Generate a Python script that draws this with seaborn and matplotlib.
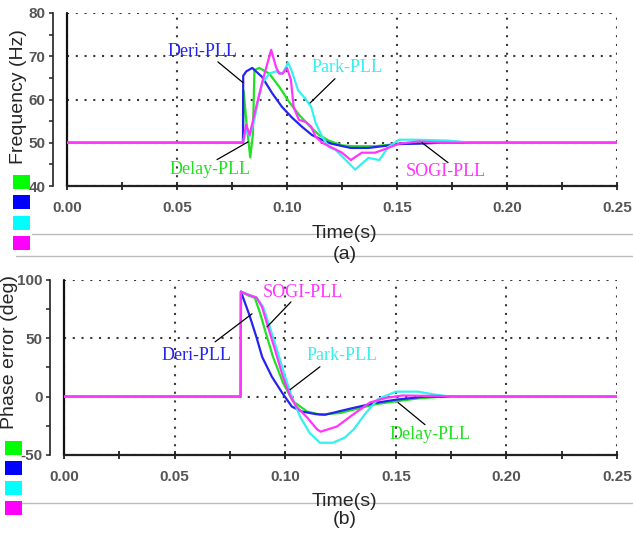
import numpy as np
import pandas as pd
import matplotlib
matplotlib.use("Agg")
import matplotlib.pyplot as plt
import seaborn as sns
from matplotlib.lines import Line2D
from matplotlib.patches import Rectangle
from matplotlib.ticker import MultipleLocator, FormatStrFormatter

# ---------------- data ----------------
methods = ["Delay-PLL", "Deri-PLL", "Park-PLL", "SOGI-PLL"]
line_colors = ["#22e022", "#2424ee", "#35f0f0", "#ff35ff"]
swatch_colors = ["#00ff00", "#0000ff", "#00ffff", "#ff00ff"]

# (a) frequency (Hz)
f_delay_t = [0, 0.0800, 0.0803, 0.0815, 0.0833, 0.0845, 0.0852, 0.0874, 0.0919, 0.0964,
             0.1009, 0.1054, 0.1100, 0.1145, 0.1190, 0.1250, 0.1300, 0.1400, 0.1500, 0.1650, 0.1750, 0.25]
f_delay_v = [50, 50, 62, 55, 46.6, 52, 66.8, 67.3, 66, 63,
             59.5, 56.5, 54, 51.8, 50.5, 49.4, 49.2, 49.2, 49.7, 50.0, 50, 50]

f_deri_t = [0, 0.0800, 0.0801, 0.0815, 0.0842, 0.0887, 0.0932, 0.0977, 0.1023, 0.1068,
            0.1113, 0.1158, 0.1200, 0.1290, 0.1370, 0.1450, 0.1500, 0.1600, 0.1700, 0.25]
f_deri_v = [50, 50, 65.5, 66.5, 67.3, 65.2, 61.5, 58.3, 55.8, 53.7,
            51.8, 50.7, 49.8, 48.8, 48.8, 49.3, 49.7, 49.8, 50, 50]

f_park_t = [0, 0.0800, 0.0814, 0.0830, 0.0850, 0.0870, 0.0887, 0.0920, 0.0950, 0.0980,
            0.1005, 0.1020, 0.1050, 0.1086, 0.1110, 0.1130, 0.1160, 0.1190, 0.1220, 0.1310,
            0.1370, 0.1420, 0.1460, 0.1510, 0.1580, 0.1730, 0.1840, 0.25]
f_park_v = [50, 50, 53, 51.5, 55, 60, 63.8, 66, 66.5, 66,
            68.5, 66.8, 62.2, 60, 58.3, 54.6, 51.4, 49, 48.4, 43.8,
            46.5, 46, 49, 50.7, 50.7, 50.5, 50, 50]

f_sogi_t = [0, 0.0800, 0.0814, 0.0830, 0.0860, 0.0890, 0.0928, 0.0950, 0.0964, 0.0980,
            0.1000, 0.1018, 0.1030, 0.1054, 0.1086, 0.1110, 0.1130, 0.1160, 0.1250, 0.1290,
            0.1340, 0.1400, 0.1460, 0.1510, 0.1600, 0.1700, 0.25]
f_sogi_v = [50, 50, 54.2, 51.8, 58.3, 64.5, 71.5, 67.5, 66, 66,
            67.3, 64.5, 58.3, 55.3, 54.8, 53.7, 51.4, 50, 47.7, 46,
            47.7, 47.7, 48.8, 49.8, 50.3, 50, 50]

# (b) phase error (deg)
p_delay_t = [0, 0.0799, 0.0800, 0.0830, 0.0863, 0.0886, 0.0918, 0.0945, 0.0990, 0.1035,
             0.1100, 0.1157, 0.1248, 0.1300, 0.1410, 0.1500, 0.1600, 0.1710, 0.25]
p_delay_v = [0, 0, 90, 87, 84.6, 71.8, 51, 34, 12, -4,
             -12.8, -15.4, -14, -11.5, -6.4, -4, -1.5, 0, 0]

p_deri_t = [0, 0.0799, 0.0800, 0.0838, 0.0870, 0.0896, 0.0940, 0.0986, 0.1030, 0.1077,
            0.1140, 0.1180, 0.1300, 0.1410, 0.1500, 0.1630, 0.25]
p_deri_v = [0, 0, 90, 70, 51, 34, 17, 3.4, -8.5, -12.8,
            -15.0, -15.5, -10, -5.3, -2.6, 0, 0]

p_park_t = [0, 0.0799, 0.0800, 0.0838, 0.0870, 0.0900, 0.0930, 0.0963, 0.1000, 0.1030,
            0.1067, 0.1110, 0.1157, 0.1216, 0.1270, 0.1310, 0.1360, 0.1420, 0.1500, 0.1600,
            0.1680, 0.1750, 0.25]
p_park_v = [0, 0, 90, 87, 85, 77, 60, 40, 17, 0,
            -17, -31, -39.5, -39.5, -35, -28, -15, -2, 4.3, 4.3,
            1.7, 0, 0]

p_sogi_t = [0, 0.0799, 0.0800, 0.0838, 0.0870, 0.0895, 0.0922, 0.0954, 0.0990, 0.1020,
            0.1050, 0.1100, 0.1144, 0.1160, 0.1234, 0.1306, 0.1383, 0.1456, 0.1530, 0.1710,
            0.1770, 0.25]
p_sogi_v = [0, 0, 90, 87, 85, 77, 60, 40, 17, 1.7,
            -8.5, -18, -28, -30, -25.6, -15.4, -5, -1, 1, 0.5,
            0, 0]

freq_series = {"Delay-PLL": (f_delay_t, f_delay_v), "Deri-PLL": (f_deri_t, f_deri_v),
               "Park-PLL": (f_park_t, f_park_v), "SOGI-PLL": (f_sogi_t, f_sogi_v)}
phase_series = {"Delay-PLL": (p_delay_t, p_delay_v), "Deri-PLL": (p_deri_t, p_deri_v),
                "Park-PLL": (p_park_t, p_park_v), "SOGI-PLL": (p_sogi_t, p_sogi_v)}

# annotation labels: (name, text position, leader start, leader end)
freq_notes = [("Deri-PLL", (0.0614, 71.0), (0.0686, 68.7), (0.0800, 63.9)),
              ("Delay-PLL", (0.0650, 43.8), (0.0682, 46.1), (0.0823, 50.2)),
              ("Park-PLL", (0.1273, 67.5), (0.1218, 64.8), (0.1105, 59.2)),
              ("SOGI-PLL", (0.1723, 43.3), (0.1732, 45.4), (0.1614, 50.0))]
phase_notes = [("SOGI-PLL", (0.1080, 88.9), (0.1026, 81.2), (0.0918, 59.8)),
               ("Deri-PLL", (0.0601, 35.0), (0.0683, 47.0), (0.0850, 71.0)),
               ("Park-PLL", (0.1257, 35.0), (0.1157, 25.6), (0.1022, 6.0)),
               ("Delay-PLL", (0.1655, -32.5), (0.1632, -24.0), (0.1510, -5.0))]


def to_frame(series):
    rows = []
    for m in methods:
        t, v = series[m]
        rows.append(pd.DataFrame({"t": t, "v": v, "method": m}))
    return pd.concat(rows, ignore_index=True)


sns.set_style("white")
plt.rcParams["font.family"] = ["Liberation Sans", "DejaVu Sans"]

W, H = 633, 534
fig = plt.figure(figsize=(W / 100, H / 100), dpi=100)

ax1 = fig.add_axes([67 / W, 1 - 186 / H, 550 / W, 173 / H])
ax2 = fig.add_axes([64 / W, 1 - 455 / H, 553 / W, 175 / H])

color_of = dict(zip(methods, line_colors))


def style_axis(ax, ylim, ymaj, ymin):
    ax.set_xlim(0, 0.25)
    ax.set_ylim(*ylim)
    ax.set_axisbelow(True)
    ax.grid(True, which="major", linestyle=(0, (1, 3.2)), color="#3a3a3a", lw=1.5)
    for s in ["top", "right"]:
        ax.spines[s].set_visible(False)
    ax.spines["left"].set_position(("outward", 10))
    ax.spines["left"].set_linewidth(1.2)
    ax.spines["left"].set_color("#222222")
    ax.spines["bottom"].set_linewidth(1.6)
    ax.spines["bottom"].set_color("#222222")
    ax.axvline(0, color="#111111", lw=1.6, clip_on=False, zorder=1.5)
    ax.xaxis.set_major_locator(MultipleLocator(0.05))
    ax.xaxis.set_minor_locator(MultipleLocator(0.025))
    ax.xaxis.set_major_formatter(FormatStrFormatter("%.2f"))
    ax.yaxis.set_major_locator(MultipleLocator(ymaj))
    ax.yaxis.set_minor_locator(MultipleLocator(ymin))
    ax.yaxis.set_major_formatter(FormatStrFormatter("%d"))
    ax.tick_params(axis="x", which="both", direction="inout", length=6, width=1.3,
                   color="#222222", bottom=True)
    ax.tick_params(axis="x", which="major", pad=7.5, labelsize=11, labelcolor="#555555")
    ax.tick_params(axis="y", which="both", direction="out", length=3, width=1.1,
                   color="#222222", left=True)
    ax.tick_params(axis="y", which="major", pad=2.5, labelsize=11, labelcolor="#555555")
    ax.set_xlabel("")
    ax.set_ylabel("")


for ax, series, notes, ylim, ymaj, ymin in [
        (ax1, freq_series, freq_notes, (40, 80), 10, 5),
        (ax2, phase_series, phase_notes, (-50, 100), 50, 25)]:
    df = to_frame(series)
    sns.lineplot(data=df, x="t", y="v", hue="method", hue_order=methods,
                 palette=line_colors, estimator=None, sort=False, lw=1.6,
                 legend=False, ax=ax)
    style_axis(ax, ylim, ymaj, ymin)
    for name, tpos, a, b in notes:
        ax.annotate("", xy=b, xytext=a,
                    arrowprops=dict(arrowstyle="-", color="black", lw=0.9,
                                    shrinkA=0, shrinkB=0))
        ax.text(tpos[0], tpos[1], name, color=color_of[name], ha="center", va="center",
                fontsize=13, family="Liberation Serif")

# axis titles
fig.text(19 / W, 1 - 97 / H, "Frequency (Hz)", rotation=90, ha="center", va="center",
         fontsize=14)
fig.text(10 / W, 1 - 352 / H, "Phase error (deg)", rotation=90, ha="center", va="center",
         fontsize=14)

# separator lines
for x0, y in [(32, 234), (16, 256), (22, 503)]:
    fig.add_artist(Line2D([x0 / W, 1], [1 - y / H, 1 - y / H], transform=fig.transFigure,
                          color="#bbbbbb", lw=1.0))

fig.text(344 / W, 1 - 234 / H, "Time(s)", ha="center", va="center", fontsize=14)
fig.text(345 / W, 1 - 255 / H, "(a)", ha="center", va="center", fontsize=14)
fig.text(344 / W, 1 - 501 / H, "Time(s)", ha="center", va="center", fontsize=14)
fig.text(345 / W, 1 - 520 / H, "(b)", ha="center", va="center", fontsize=14)

# colour swatches (legend without labels)
for x0, tops in [(13, [175, 195, 216, 236]), (5, [441, 461, 481, 501])]:
    for c, top in zip(swatch_colors, tops):
        fig.add_artist(Rectangle((x0 / W, 1 - (top + 14) / H), 17 / W, 14 / H,
                                 transform=fig.transFigure, color=c, lw=0))

# bold tick labels (set after the ticks exist)
fig.canvas.draw()
for ax in (ax1, ax2):
    for lab in ax.get_xticklabels() + ax.get_yticklabels():
        lab.set_fontweight("bold")

fig.savefig("out.png", dpi=100)
